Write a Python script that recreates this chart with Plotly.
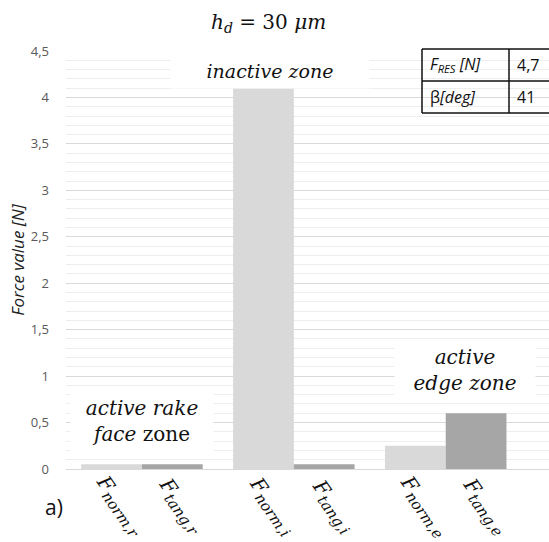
import plotly.graph_objects as go

groups = ["r", "i", "e"]
norm_vals = [0.05, 4.1, 0.25]
tang_vals = [0.05, 0.05, 0.6]
norm_labels = ["norm,r", "norm,i", "norm,e"]
tang_labels = ["tang,r", "tang,i", "tang,e"]
y_ticks = [0, 0.5, 1, 1.5, 2, 2.5, 3, 3.5, 4, 4.5]
table_rows = [["<i>F</i><sub><i>RES</i></sub><i> [N]</i>", "4,7"], ["β<i>[deg]</i>", "41"]]

SANS = "Open Sans"
SERIF = "DejaVu Serif"

fig = go.Figure()
fig.add_trace(go.Bar(x=groups, y=norm_vals, marker=dict(color="#d9d9d9", line=dict(width=0)), name="norm"))
fig.add_trace(go.Bar(x=groups, y=tang_vals, marker=dict(color="#a6a6a6", line=dict(width=0)), name="tang"))

L, R, T, B = 66, 549, 51, 469
def px(x):
    return (x - L) / (R - L)
def py(y):
    return (B - y) / (B - T)

ann = []
for i, g in enumerate(groups):
    for lab, off in ((norm_labels[i], -30.5), (tang_labels[i], 30.5)):
        ann.append(dict(x=g, y=0, xref="x", yref="y", xshift=off + 9, yshift=-37,
                        text="<i>F</i><sub><span style='font-size:15px'><i>%s</i></span></sub>" % lab,
                        textangle=55,
                        showarrow=False, xanchor="center", yanchor="middle",
                        font=dict(family=SERIF, size=20, color="#111111")))

ann.append(dict(x=0.84, y=4.29, xref="x", yref="y", text="<i>inactive zone</i>", showarrow=False,
                bgcolor="white", width=196, height=32, xanchor="center", yanchor="middle",
                font=dict(family=SERIF, size=19, color="#111111")))
ann.append(dict(x=0, y=0.52, xref="x", yref="y", text="<i>active rake</i><br><i>face</i> zone", showarrow=False,
                bgcolor="white", width=140, height=58, xanchor="center", yanchor="middle",
                font=dict(family=SERIF, size=20, color="#111111")))
ann.append(dict(x=2.125, y=1.07, xref="x", yref="y", text="<i>active</i><br><i>edge zone</i>", showarrow=False,
                bgcolor="white", width=138, height=56, xanchor="center", yanchor="middle",
                font=dict(family=SERIF, size=20, color="#111111")))

ann.append(dict(x=px(268), y=py(23), xref="paper", yref="paper", xanchor="center", yanchor="middle",
                text="<i>h</i><sub><i>d</i></sub> = 30 <i>μm</i>", showarrow=False,
                font=dict(family=SERIF, size=20, color="#111111")))
ann.append(dict(x=px(54), y=py(507), xref="paper", yref="paper", text="a)", showarrow=False,
                xanchor="center", yanchor="middle",
                font=dict(family=SANS, size=21, color="#111111")))

tx0, txm, tx1 = 422, 509, 560
ty0, tym, ty1 = 49, 81, 113
shapes = []
shapes.append(dict(type="rect", xref="paper", yref="paper", x0=px(tx0), y0=py(ty0), x1=px(tx1), y1=py(ty1),
                   fillcolor="white", line=dict(width=0), layer="below"))
for (x0, y0, x1, y1) in [(tx0, ty0, tx1, ty0), (tx0, ty1, tx1, ty1), (tx0, tym, tx1, tym),
                         (tx0, ty0, tx0, ty1), (txm, ty0, txm, ty1)]:
    shapes.append(dict(type="line", xref="paper", yref="paper", x0=px(x0), y0=py(y0), x1=px(x1), y1=py(y1),
                       line=dict(color="#111111", width=1.5)))
for r, row in enumerate(table_rows):
    cy = (ty0 + tym) / 2 if r == 0 else (tym + ty1) / 2
    ann.append(dict(x=px(428), y=py(cy), xref="paper", yref="paper", text=row[0], showarrow=False,
                    xanchor="left", yanchor="middle", font=dict(family=SANS, size=16, color="#111111")))
    ann.append(dict(x=px(515), y=py(cy), xref="paper", yref="paper", text=row[1], showarrow=False,
                    xanchor="left", yanchor="middle", font=dict(family=SANS, size=16, color="#111111")))

fig.update_layout(
    width=549, height=542,
    margin=dict(l=L, r=549 - R, t=T, b=542 - B),
    paper_bgcolor="white", plot_bgcolor="white",
    barmode="group", bargap=0.2, bargroupgap=0,
    showlegend=False,
    separators=", ",
    annotations=ann, shapes=shapes,
    xaxis=dict(type="category", range=[-0.5, 2.68], showticklabels=False, showgrid=False,
               zeroline=False, showline=False, ticks=""),
    yaxis=dict(range=[0, 4.5], tickvals=y_ticks, showgrid=True, gridcolor="#d9d9d9", gridwidth=1,
               zeroline=True, zerolinecolor="#d9d9d9", zerolinewidth=1,
               minor=dict(dtick=0.1, showgrid=True, gridcolor="#eeeeee", gridwidth=1),
               tickfont=dict(family=SANS, size=13, color="#595959"), ticklabelstandoff=16,
               title=dict(text="<i>Force value [N]</i>", font=dict(family=SANS, size=17, color="#222222"), standoff=1),
               ticks="", showline=False),
)
fig.write_html("out.html")
